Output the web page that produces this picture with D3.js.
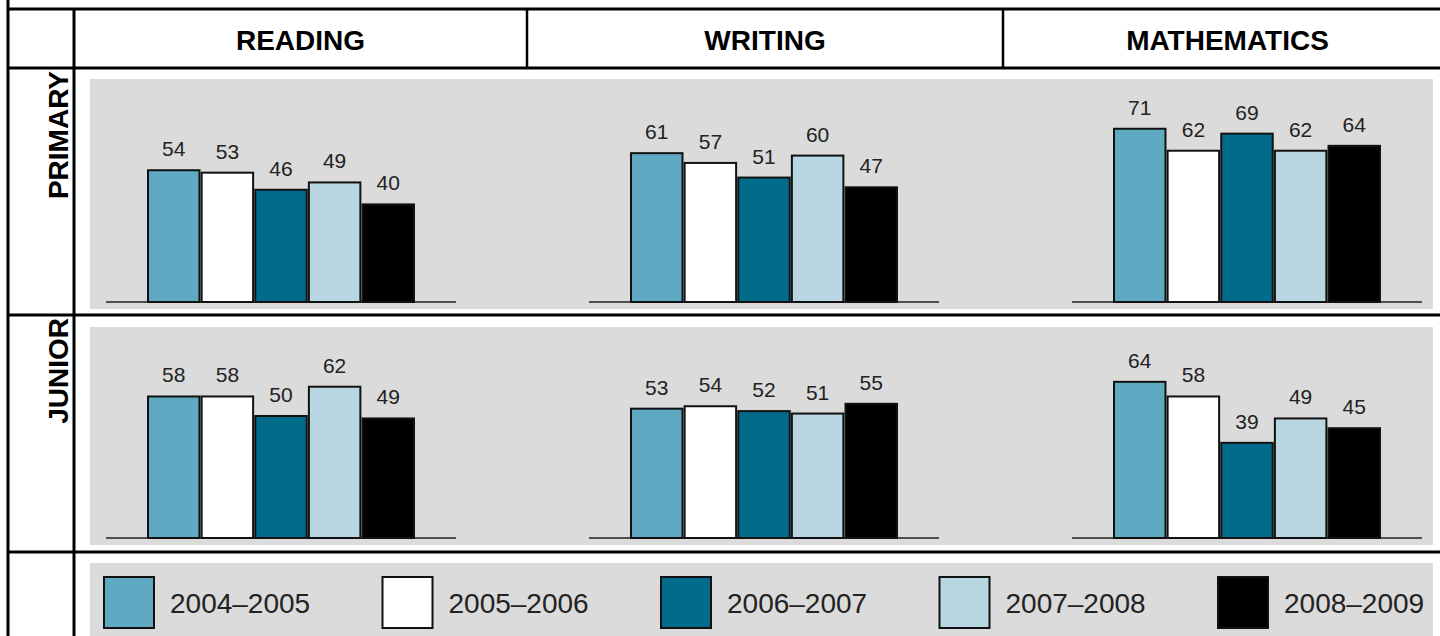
<!DOCTYPE html>
<html>
<head>
<meta charset="utf-8">
<script src="https://cdn.jsdelivr.net/npm/d3@7"></script>
<style>
  body { margin: 0; background: #fff; }
  svg { display: block; font-family: "Liberation Sans", Arial, sans-serif; }
</style>
</head>
<body>
<script>
var width = 1440,
    height = 636;

// data
var subjects = ["READING", "WRITING", "MATHEMATICS"];
var divisions = ["PRIMARY", "JUNIOR"];
var years = ["2004–2005", "2005–2006", "2006–2007", "2007–2008", "2008–2009"];
var yearColors = ["#5fa9c2", "#ffffff", "#006b8a", "#b8d7e2", "#000000"];
var primaryValues = [[54, 53, 46, 49, 40], [61, 57, 51, 60, 47], [71, 62, 69, 62, 64]];
var juniorValues = [[58, 58, 50, 62, 49], [53, 54, 52, 51, 55], [64, 58, 39, 49, 45]];
var values = [primaryValues, juniorValues];

// layout
var colEdges = [74, 527, 1003, 1452];
var rows = [
  { top: 68, panelTop: 79, panelBottom: 309, base: 302 },
  { top: 315, panelTop: 327, panelBottom: 545, base: 538 }
];
var legendTop = 552;

var color = d3.scaleOrdinal().domain(years).range(yearColors);

var chartX = d3.scalePoint()
    .domain(subjects)
    .range([281, 1247]);

var barX = d3.scaleBand()
    .domain(years)
    .range([-133, 133])
    .paddingInner(0.04);

var svg = d3.select("body").append("svg")
    .attr("width", width)
    .attr("height", height);

// gray panels
rows.forEach(function(r) {
  svg.append("rect")
      .attr("x", 90).attr("y", r.panelTop)
      .attr("width", 1343).attr("height", r.panelBottom - r.panelTop)
      .attr("fill", "#dbdbdb");
});
svg.append("rect")
    .attr("x", 90).attr("y", 563)
    .attr("width", 1343).attr("height", 80)
    .attr("fill", "#dbdbdb");

// charts
rows.forEach(function(r, ri) {
  var y = d3.scaleLinear().domain([0, 100]).range([r.base, r.base - 244]);

  subjects.forEach(function(s, si) {
    var g = svg.append("g")
        .attr("transform", "translate(" + chartX(s) + ",0)");

    var d = years.map(function(yr, i) { return { year: yr, value: values[ri][si][i] }; });

    g.append("line")
        .attr("x1", -175).attr("x2", 175)
        .attr("y1", r.base).attr("y2", r.base)
        .attr("stroke", "#222").attr("stroke-width", 1.5);

    g.selectAll(".bar")
      .data(d)
      .enter().append("rect")
        .attr("class", "bar")
        .attr("x", function(d) { return barX(d.year); })
        .attr("y", function(d) { return y(d.value); })
        .attr("width", barX.bandwidth())
        .attr("height", function(d) { return r.base - y(d.value); })
        .attr("fill", function(d) { return color(d.year); })
        .attr("stroke", "#111")
        .attr("stroke-width", 2);

    g.selectAll(".val")
      .data(d)
      .enter().append("text")
        .attr("class", "val")
        .attr("x", function(d) { return barX(d.year) + barX.bandwidth() / 2; })
        .attr("y", function(d) { return y(d.value) - 14; })
        .attr("text-anchor", "middle")
        .attr("font-size", 21)
        .attr("fill", "#222")
        .text(function(d) { return d.value; });
  });

  svg.append("text")
      .attr("transform", "translate(68," + (r.top + 3) + ") rotate(-90)")
      .attr("text-anchor", "end")
      .attr("font-size", 28)
      .attr("font-weight", "bold")
      .text(divisions[ri]);
});

// header texts
subjects.forEach(function(s, i) {
  svg.append("text")
      .attr("x", (colEdges[i] + colEdges[i + 1]) / 2)
      .attr("y", 50)
      .attr("text-anchor", "middle")
      .attr("font-size", 28)
      .attr("font-weight", "bold")
      .text(s);
});

// legend
var legend = svg.selectAll(".legend")
    .data(years)
  .enter().append("g")
    .attr("class", "legend")
    .attr("transform", function(d, i) { return "translate(" + (104 + i * 278.5) + ",577)"; });

legend.append("rect")
    .attr("width", 50).attr("height", 51)
    .attr("fill", function(d) { return color(d); })
    .attr("stroke", "#111").attr("stroke-width", 2);

legend.append("text")
    .attr("x", 66).attr("y", 26)
    .attr("dominant-baseline", "central")
    .attr("font-size", 28)
    .attr("fill", "#222")
    .text(function(d) { return d; });

// table lines
var lines = [
  [8, 0, 8, height, 3],
  [74, 9, 74, height, 3],
  [8, 9, width, 9, 3],
  [8, 68, width, 68, 3],
  [8, 315, width, 315, 3],
  [8, legendTop, width, legendTop, 3],
  [527, 9, 527, 68, 2.5],
  [1003, 9, 1003, 68, 2.5]
];
svg.selectAll(".rule")
    .data(lines)
  .enter().append("line")
    .attr("class", "rule")
    .attr("x1", function(d) { return d[0]; })
    .attr("y1", function(d) { return d[1]; })
    .attr("x2", function(d) { return d[2]; })
    .attr("y2", function(d) { return d[3]; })
    .attr("stroke", "#000")
    .attr("stroke-width", function(d) { return d[4]; });
</script>
</body>
</html>
